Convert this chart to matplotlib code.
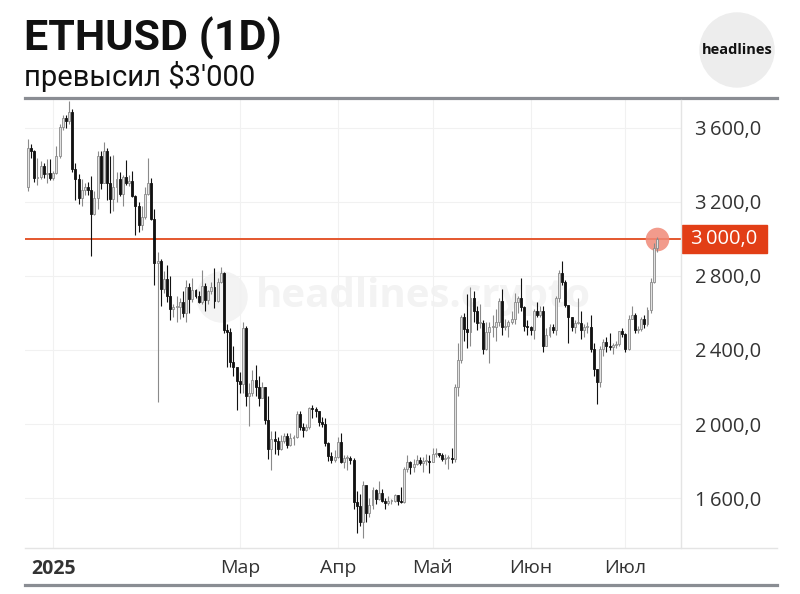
import datetime as dt
import matplotlib
matplotlib.use('Agg')
import matplotlib.pyplot as plt
import matplotlib.dates as mdates
import matplotlib.transforms as mtransforms
from matplotlib.patches import Circle, Rectangle
from matplotlib.lines import Line2D

plt.rcParams['font.family'] = ['Open Sans', 'DejaVu Sans']

# daily ETHUSD candles, 24 Dec 2024 .. 11 Jul 2025
start = dt.date(2024, 12, 24)
first_open = 3280
closes = [
    3490, 3478, 3330, 3335, 3395, 3352, 3355, 3332,
    3355, 3450, 3605, 3655, 3635, 3685, 3380, 3325, 3220, 3265, 3282, 3265, 3135, 3224, 3450, 3305,
    3475, 3305, 3215, 3280, 3325, 3245, 3335, 3305, 3315, 3230, 3180, 3075, 3120, 3245, 3300,
    3110, 2870, 2880, 2730, 2785, 2690, 2620, 2630, 2630, 2660, 2600, 2740, 2675, 2725, 2690, 2660,
    2745, 2670, 2720, 2740, 2665, 2765, 2815, 2510, 2495, 2335, 2310, 2235,
    2215, 2520, 2150, 2170, 2240, 2200, 2140, 2200, 2020, 1865, 1920, 1910, 1865, 1910, 1935, 1885,
    1925, 1930, 2055, 1985, 1965, 1985, 2085, 2080, 2070, 2010, 2000, 1895, 1825, 1805, 1820,
    1905, 1795, 1815, 1815, 1805, 1580, 1555, 1470, 1670, 1520, 1565, 1645, 1595, 1625, 1585,
    1575, 1585, 1585, 1615, 1585, 1580, 1755, 1795, 1770, 1785, 1805, 1790, 1800, 1800, 1795,
    1840, 1840, 1835, 1810, 1815, 1815, 1810, 2200, 2345, 2580, 2515, 2495, 2680, 2610, 2545,
    2545, 2405, 2495, 2525, 2525, 2550, 2665, 2525, 2530, 2550, 2565, 2660, 2680, 2630, 2530, 2525,
    2510, 2610, 2590, 2610, 2420, 2480, 2525, 2510, 2680, 2815, 2770, 2645, 2580, 2525, 2545,
    2545, 2510, 2525, 2525, 2405, 2295, 2225, 2405, 2445, 2420, 2415, 2425, 2435, 2500, 2485,
    2405, 2570, 2590, 2510, 2515, 2570, 2540, 2615, 2770, 2950, 3000,
]
highs = [
    3540, 3515, 3480, 3440, 3420, 3410, 3430, 3430,
    3370, 3500, 3620, 3670, 3670, 3745, 3700, 3410, 3350, 3325, 3300, 3310, 3340, 3260, 3475, 3475,
    3525, 3490, 3450, 3455, 3360, 3360, 3345, 3425, 3345, 3365, 3235, 3200, 3180, 3280, 3440,
    3330, 3160, 2930, 2890, 2825, 2860, 2800, 2650, 2690, 2680, 2720, 2780, 2760, 2790, 2730, 2720,
    2830, 2760, 2725, 2770, 2845, 2790, 2850, 2820, 2540, 2520, 2420, 2300,
    2280, 2550, 2530, 2220, 2290, 2320, 2260, 2225, 2200, 2150, 1960, 1960, 1930, 1940, 1950, 1950,
    1950, 1940, 2070, 2070, 2005, 2000, 2090, 2105, 2090, 2070, 2040, 2030, 1905, 1850, 1860,
    1930, 1950, 1830, 1835, 1825, 1815, 1640, 1620, 1690, 1665, 1600, 1660, 1650, 1690, 1650,
    1600, 1610, 1595, 1620, 1615, 1660, 1770, 1830, 1800, 1810, 1830, 1820, 1820, 1840, 1830,
    1870, 1870, 1845, 1845, 1840, 1830, 1870, 2215, 2440, 2590, 2600, 2700, 2740, 2720, 2640,
    2650, 2560, 2550, 2550, 2590, 2620, 2680, 2730, 2570, 2560, 2610, 2710, 2690, 2790, 2640, 2560,
    2530, 2620, 2660, 2640, 2640, 2520, 2540, 2540, 2690, 2830, 2880, 2780, 2640, 2580, 2560,
    2680, 2610, 2540, 2550, 2590, 2440, 2300, 2420, 2460, 2470, 2490, 2440, 2450, 2500, 2520,
    2490, 2590, 2640, 2600, 2530, 2580, 2590, 2630, 2790, 2980, 3010,
]
lows = [
    3260, 3440, 3310, 3290, 3325, 3330, 3300, 3320,
    3320, 3350, 3440, 3590, 3600, 3620, 3360, 3210, 3190, 3180, 3235, 3235, 2910, 3130, 3160, 3270,
    3300, 3210, 3140, 3150, 3200, 3230, 3180, 3290, 3285, 3225, 3020, 3040, 3050, 3110, 3240,
    3100, 2750, 2120, 2640, 2710, 2660, 2560, 2580, 2550, 2570, 2580, 2550, 2600, 2660, 2680, 2655,
    2650, 2610, 2650, 2700, 2625, 2660, 2760, 2490, 2310, 2310, 2260, 2075,
    2170, 2170, 2100, 1990, 2150, 2150, 2100, 2150, 2000, 1810, 1750, 1840, 1830, 1860, 1900, 1870,
    1880, 1885, 1925, 1965, 1930, 1960, 1975, 2030, 2040, 1990, 1985, 1880, 1800, 1790, 1795,
    1815, 1790, 1760, 1750, 1785, 1540, 1410, 1450, 1385, 1470, 1500, 1540, 1570, 1590, 1580,
    1540, 1565, 1570, 1580, 1565, 1575, 1575, 1740, 1730, 1740, 1780, 1780, 1740, 1780, 1735,
    1795, 1820, 1820, 1800, 1785, 1755, 1790, 1795, 2150, 2330, 2450, 2410, 2420, 2550, 2510,
    2520, 2380, 2400, 2330, 2470, 2450, 2530, 2480, 2510, 2470, 2540, 2540, 2600, 2610, 2500, 2480,
    2480, 2460, 2580, 2580, 2390, 2420, 2470, 2490, 2480, 2660, 2750, 2630, 2440, 2500, 2490,
    2540, 2460, 2470, 2490, 2390, 2260, 2110, 2200, 2370, 2390, 2400, 2380, 2410, 2420, 2470,
    2390, 2400, 2570, 2490, 2490, 2500, 2520, 2530, 2600, 2760, 2930,
]

yticks = [1600, 2000, 2400, 2800, 3200, 3600]
month_ticks = ['2025-01-01', '2025-03-01', '2025-04-01', '2025-05-01', '2025-06-01', '2025-07-01']
month_labels = ['2025', 'Мар', 'Апр', 'Май', 'Июн', 'Июл']
level = 3000

dates = [start + dt.timedelta(days=i) for i in range(len(closes))]
x = mdates.date2num(dates)
opens = [first_open] + closes[:-1]

W, H = 800, 594
fig = plt.figure(figsize=(8, 5.94), dpi=100)
fig.patch.set_facecolor('white')
pix = mtransforms.IdentityTransform()  # pixel coords, origin bottom-left


def fx(px):
    return px / W


def fy(py):
    return 1 - py / H


ax = fig.add_axes([fx(25), fy(548), fx(656), 448 / H])
ax.set_facecolor('none')

up = [c >= o for o, c in zip(opens, closes)]
for i in range(len(x)):
    col = '#8a8a8a' if up[i] else '#111111'
    ax.vlines(x[i], lows[i], highs[i], color=col, lw=0.8, zorder=3)
    lo, hi = min(opens[i], closes[i]), max(opens[i], closes[i])
    if hi - lo < 6:
        hi = lo + 6
    ax.bar(x[i], hi - lo, bottom=lo, width=0.62,
           color='#e2e2e2' if up[i] else '#111111',
           edgecolor='#8a8a8a' if up[i] else '#111111', lw=0.6, zorder=4)

ax.axhline(level, color='#e4572e', lw=1.4, zorder=2)
ax.plot(x[-1], level, 'o', ms=17, color='#f08a78', alpha=0.85, mec='none', zorder=2.5)

tick_x = mdates.date2num([dt.date.fromisoformat(d) for d in month_ticks])
ax.set_xticks(tick_x)
ax.set_xticklabels(month_labels, fontsize=14, color='#333333')
ax.get_xticklabels()[0].set_fontweight('bold')
ax.set_yticks(yticks)
ax.set_yticklabels([f'{v // 1000}\u2009{v % 1000:03d},0' for v in yticks], fontsize=14.5, color='#333333')
ax.yaxis.tick_right()
ax.tick_params(axis='both', length=0)
ax.tick_params(axis='y', pad=10)
ax.tick_params(axis='x', pad=8)
ax.grid(True, color='#f1f1f1', lw=0.8, zorder=0)
for s in ax.spines.values():
    s.set_visible(False)

ax.set_xlim(x[0] - 0.95, x[0] + 206.6)
ax.set_ylim(1330, 3751)

# price label on the right axis
trans = mtransforms.blended_transform_factory(ax.transAxes, ax.transData)
ax.add_patch(Rectangle((1.0 + 1 / 656, level - 76), 85 / 656, 152, transform=trans,
                       color='#e23e16', clip_on=False, zorder=5))
ax.text(1.0 + 43 / 656, level, f'{level // 1000}\u2009{level % 1000:03d},0', transform=trans,
        ha='center', va='center', color='white', fontsize=14.5, zorder=6)

# watermark, behind the candles
ax.add_patch(Circle((222, H - 297), 25, transform=pix, color='#f3f3f3', zorder=1, clip_on=False))
ax.text(fx(256), fy(297), 'headlines.crypto', fontsize=29, fontweight='bold', transform=fig.transFigure,
        color='#f3f3f3', ha='left', va='center', zorder=1)

# frame lines
fig.add_artist(Line2D([fx(25), fx(777)], [fy(98), fy(98)], color='#8a8d93', lw=2.3))
fig.add_artist(Line2D([fx(25), fx(777)], [fy(585), fy(585)], color='#8a8d93', lw=2.3))
fig.add_artist(Line2D([fx(25), fx(777)], [fy(548), fy(548)], color='#e4e4e4', lw=1))
fig.add_artist(Line2D([fx(681), fx(681)], [fy(100), fy(548)], color='#e4e4e4', lw=1))

# header
fig.text(fx(24), fy(38), 'ETHUSD (1D)', fontsize=31, fontweight='bold',
         family=['Roboto', 'DejaVu Sans'], color='#111111', va='center')
fig.text(fx(24), fy(77), "превысил $3'000", fontsize=21,
         family=['Roboto', 'DejaVu Sans'], color='#111111', va='center')
fig.add_artist(Circle((737, H - 50), 37, transform=pix, color='#ededed', zorder=0))
fig.text(fx(737), fy(50), 'headlines', fontsize=10.5, fontweight='bold',
         color='#111111', ha='center', va='center')

fig.savefig('out.png', dpi=100)
